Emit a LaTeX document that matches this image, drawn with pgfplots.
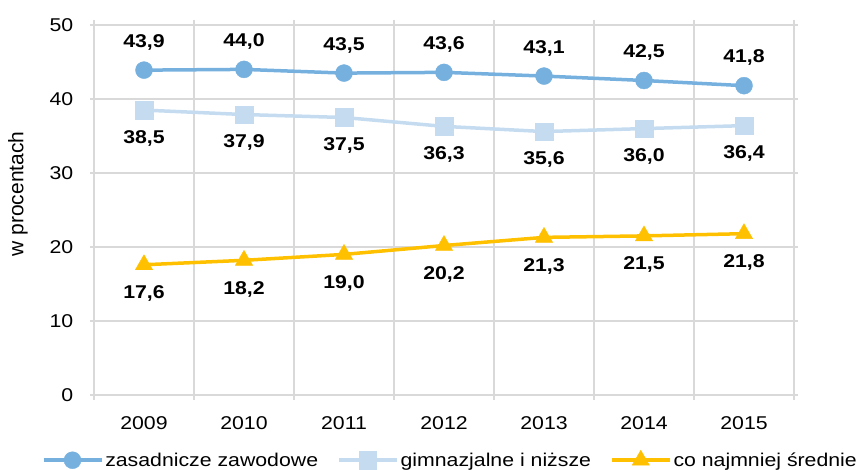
\documentclass[border=0pt]{standalone}
\usepackage{fontspec}
\setmainfont{Liberation Sans}[FakeStretch=1.15]
\newfontfamily\ylabfont{Liberation Sans}
\usepackage{pgfplots}
\pgfplotsset{compat=1.18}
\definecolor{cz}{RGB}{117,176,222}
\definecolor{cg}{RGB}{197,220,240}
\definecolor{cy}{RGB}{255,192,0}
\definecolor{gridc}{RGB}{217,217,217}
\begin{document}
\begin{tikzpicture}[x=1pt,y=1pt]
\useasboundingbox (0,0) rectangle (858,470);
\begin{axis}[
  at={(94pt,75pt)}, anchor=south west,
  scale only axis, width=700pt, height=370pt,
  xmin=-0.5, xmax=6.5, ymin=0, ymax=50,
  xtick={0,1,2,3,4,5,6},
  xticklabels={2009,2010,2011,2012,2013,2014,2015},
  minor xtick={-0.5,0.5,1.5,2.5,3.5,4.5,5.5,6.5},
  ytick={0,10,20,30,40,50},
  ymajorgrids, xminorgrids,
  grid style={gridc, line width=1.2pt},
  minor grid style={gridc, line width=1.2pt},
  axis line style={gridc, line width=1.2pt},
  tick align=outside,
  major tick length=4pt, minor tick length=5pt,
  tick style={gridc, line width=1.2pt},
  major x tick style={draw=none},
  /pgf/number format/assume math mode=true,
  tick label style={font=\fontsize{18.5}{20}\selectfont, inner sep=0pt},
  yticklabel style={anchor=east, xshift=-16.5pt},
  xticklabel style={anchor=north, yshift=-17pt},
  legend columns=3,
  legend style={at={(0.509,-0.1757)}, anchor=center, draw=none, fill=none,
    font=\fontsize{18.5}{20}\selectfont,
    /tikz/every even column/.append style={column sep=17pt}},
  legend image code/.code={\draw[mark repeat=2,mark phase=2,#1] plot coordinates {(0pt,0pt) (29pt,0pt) (58pt,0pt)};},
  nodes near coords={\pgfmathprintnumber[fixed,fixed zerofill,precision=1,use comma,assume math mode=true]{\pgfplotspointmeta}},
  point meta=y,
  every node near coord/.append style={font=\bfseries\fontsize{18.5}{20}\selectfont, text=black, anchor=center},
]
\addplot[color=cz, line width=3.5pt, mark=*, mark size=8.5pt, mark options={solid, line width=0.4pt},
  every node near coord/.append style={yshift=28pt}]
  coordinates {(0,43.9) (1,44.0) (2,43.5) (3,43.6) (4,43.1) (5,42.5) (6,41.8)};
\addlegendentry{zasadnicze zawodowe}
\addplot[color=cg, line width=3.5pt, mark=square*, mark size=8.8pt, mark options={solid, line width=0.4pt},
  every node near coord/.append style={yshift=-28pt}]
  coordinates {(0,38.5) (1,37.9) (2,37.5) (3,36.3) (4,35.6) (5,36.0) (6,36.4)};
\addlegendentry{gimnazjalne i niższe}
\addplot[color=cy, line width=3.5pt, mark=triangle*, mark size=10pt, mark options={solid, line width=0.4pt},
  every node near coord/.append style={yshift=-29pt}]
  coordinates {(0,17.6) (1,18.2) (2,19.0) (3,20.2) (4,21.3) (5,21.5) (6,21.8)};
\addlegendentry{co najmniej średnie}
\end{axis}
\node[rotate=90, font=\ylabfont\fontsize{21}{24}\selectfont, inner sep=0pt] at (18,276) {w procentach};
\end{tikzpicture}
\end{document}
